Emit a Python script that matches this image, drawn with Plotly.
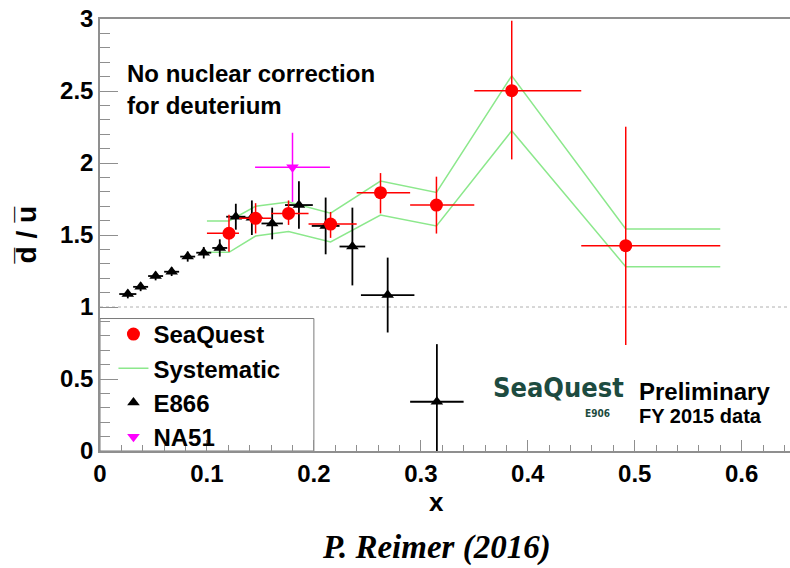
import plotly.graph_objects as go

# ---- data -------------------------------------------------------------
# E866 d-bar/u-bar
e866_x = [0.026, 0.038, 0.052, 0.067, 0.082, 0.097, 0.112, 0.127, 0.142,
          0.161, 0.186, 0.211, 0.236, 0.269, 0.315]
e866_y = [1.09, 1.14, 1.215, 1.245, 1.35, 1.377, 1.41, 1.627, 1.62,
          1.58, 1.708, 1.563, 1.42, 1.083, 0.342]
e866_yerr = [0.03, 0.03, 0.03, 0.03, 0.035, 0.04, 0.06, 0.09, 0.12,
             0.11, 0.165, 0.197, 0.27, 0.26, 0.40]
e866_xerr = [0.008, 0.007, 0.007, 0.007, 0.007, 0.007, 0.007, 0.009, 0.010,
             0.010, 0.013, 0.013, 0.012, 0.025, 0.025]

# SeaQuest (FY 2015 data)
sq_x = [0.1206, 0.1455, 0.1763, 0.2156, 0.2623, 0.3146, 0.385, 0.4916]
sq_y = [1.512, 1.616, 1.650, 1.576, 1.794, 1.708, 2.502, 1.426]
sq_err_up = [0.128, 0.105, 0.09, 0.084, 0.136, 0.197, 0.486, 0.826]
sq_err_dn = [0.128, 0.105, 0.08, 0.096, 0.144, 0.198, 0.477, 0.69]
sq_bin_lo = [0.10, 0.13, 0.16, 0.195, 0.24, 0.29, 0.35, 0.45]
sq_bin_hi = [0.13, 0.16, 0.195, 0.24, 0.29, 0.35, 0.45, 0.58]

# systematic band edges at each SeaQuest bin
sys_hi = [1.597, 1.699, 1.729, 1.652, 1.875, 1.796, 2.606, 1.542]
sys_lo = [1.380, 1.493, 1.524, 1.452, 1.639, 1.563, 2.224, 1.280]

# NA51
na51_x = [0.18]
na51_y = [1.97]
na51_xerr = [0.035]
na51_yerr = [0.24]

# ---- styling ------------------------------------------------------------
FONT = "Liberation Sans, Arial, Helvetica, sans-serif"
AXIS_GREY = "#8f8f8f"
GREEN = "#8ce88c"
LOGO_GREEN = "#1d4b40"

fig = go.Figure()

# systematic band: flat from first bin's low edge, through the bin centres,
# flat to the last bin's high edge; upper and lower curves in one trace
def band_path(vals):
    xs = [sq_bin_lo[0]] + list(sq_x) + [sq_bin_hi[-1]]
    ys = [vals[0]] + list(vals) + [vals[-1]]
    return xs, ys

ux, uy = band_path(sys_hi)
lx, ly = band_path(sys_lo)
fig.add_trace(go.Scatter(
    x=ux + [None] + lx, y=uy + [None] + ly,
    mode="lines", line=dict(color=GREEN, width=1.5),
    name="Systematic", legendrank=2, hoverinfo="skip",
))

fig.add_trace(go.Scatter(
    x=na51_x, y=na51_y, mode="markers", name="NA51", legendrank=4,
    marker=dict(symbol="triangle-down", size=11, color="#ff00ff"),
    error_x=dict(type="data", array=na51_xerr, color="#ff00ff", thickness=1.5, width=0),
    error_y=dict(type="data", array=na51_yerr, color="#ff00ff", thickness=1.5, width=0),
))

fig.add_trace(go.Scatter(
    x=e866_x, y=e866_y, mode="markers", name="E866", legendrank=3,
    marker=dict(symbol="triangle-up", size=11, color="black"),
    error_x=dict(type="data", array=e866_xerr, color="black", thickness=1.8, width=0),
    error_y=dict(type="data", array=e866_yerr, color="black", thickness=1.8, width=0),
))

sq_xerr_plus = [h - x for h, x in zip(sq_bin_hi, sq_x)]
sq_xerr_minus = [x - l for l, x in zip(sq_bin_lo, sq_x)]
fig.add_trace(go.Scatter(
    x=sq_x, y=sq_y, mode="markers", name="SeaQuest", legendrank=1,
    marker=dict(symbol="circle", size=13, color="#ff0000"),
    error_x=dict(type="data", array=sq_xerr_plus, arrayminus=sq_xerr_minus,
                 color="#ff0000", thickness=1.5, width=0),
    error_y=dict(type="data", array=sq_err_up, arrayminus=sq_err_dn,
                 color="#ff0000", thickness=1.5, width=0),
))

# reference line at unity
fig.add_shape(type="line", xref="paper", yref="y", x0=0, x1=1, y0=1, y1=1,
              line=dict(color="#b0b0b0", width=1, dash="dot"), layer="below")

# legend frame
fig.add_shape(type="rect", xref="x", yref="y", x0=0, x1=0.2, y0=0, y1=0.92,
              line=dict(color="#7a7a7a", width=1), fillcolor="white", layer="below")

annotations = [
    dict(text="No nuclear correction", x=0.036, y=0.8727),
    dict(text="for deuterium", x=0.036, y=0.8009),
    dict(text="Preliminary", x=0.778, y=0.1366),
    dict(text="FY 2015 data", x=0.778, y=0.081, size=20),
]
for a in annotations:
    fig.add_annotation(
        text=a["text"], x=a["x"], y=a["y"], xref="paper", yref="paper",
        xanchor="left", yanchor="middle", showarrow=False,
        font=dict(family=FONT, size=a.get("size", 24), color="black", weight="bold"),
    )

# experiment logo wordmark
fig.add_annotation(text="SeaQuest", x=0.6638, y=(451 - 387) / 432, xref="paper", yref="paper",
                   showarrow=False, xanchor="center", yanchor="middle",
                   font=dict(family="DejaVu Sans Condensed, DejaVu Sans", size=27,
                             color=LOGO_GREEN, weight="bold"))
fig.add_annotation(text="E906", x=0.7217, y=(451 - 413.5) / 432, xref="paper", yref="paper",
                   showarrow=False, xanchor="center", yanchor="middle",
                   font=dict(family="DejaVu Sans Condensed, DejaVu Sans", size=10,
                             color=LOGO_GREEN, weight="bold"))

# axis titles
fig.add_annotation(text="d\u0305 / u\u0305", x=-0.1058, y=0.501, xref="paper", yref="paper",
                   showarrow=False, textangle=-90, xanchor="center", yanchor="middle",
                   font=dict(family=FONT, size=28, color="black", weight="bold"))
fig.add_annotation(text="x", x=0.488, y=-0.118, xref="paper", yref="paper",
                   showarrow=False, xanchor="center", yanchor="middle",
                   font=dict(family=FONT, size=26, color="black", weight="bold"))

# credit line
fig.add_annotation(text="<b><i>P. Reimer (2016)</i></b>", x=0.488, y=-0.2245,
                   xref="paper", yref="paper", showarrow=False,
                   xanchor="center", yanchor="middle",
                   font=dict(family="Liberation Serif, Times New Roman, serif", size=33,
                             color="black"))

fig.update_layout(
    width=790, height=568,
    margin=dict(l=100, r=0, t=19, b=117, pad=0),
    paper_bgcolor="white", plot_bgcolor="white",
    showlegend=True,
    legend=dict(
        x=0.0195, y=(451 - 312) / 432, xanchor="left", yanchor="top",
        xref="paper", yref="paper",
        bgcolor="rgba(0,0,0,0)", borderwidth=0,
        font=dict(family=FONT, size=24, color="black", weight="bold"),
        tracegroupgap=0,
    ),
    xaxis=dict(
        range=[0, 0.6452], showgrid=False, zeroline=False,
        showline=True, linecolor=AXIS_GREY, linewidth=1.5, mirror=True,
        ticks="inside", ticklen=11, tickcolor=AXIS_GREY, tickwidth=1,
        dtick=0.1, tick0=0,
        minor=dict(dtick=0.02, ticks="inside", ticklen=6, tickcolor=AXIS_GREY, tickwidth=1),
        tickfont=dict(family=FONT, size=24, color="black", weight="bold"),
    ),
    yaxis=dict(
        range=[0, 3], showgrid=False, zeroline=False,
        showline=True, linecolor=AXIS_GREY, linewidth=1.5, mirror=False,
        ticks="inside", ticklen=18, tickcolor=AXIS_GREY, tickwidth=1,
        dtick=0.5, tick0=0,
        minor=dict(dtick=0.1, ticks="inside", ticklen=10, tickcolor=AXIS_GREY, tickwidth=1),
        tickfont=dict(family=FONT, size=24, color="black", weight="bold"),
    ),
)

fig.write_html("out.html")
